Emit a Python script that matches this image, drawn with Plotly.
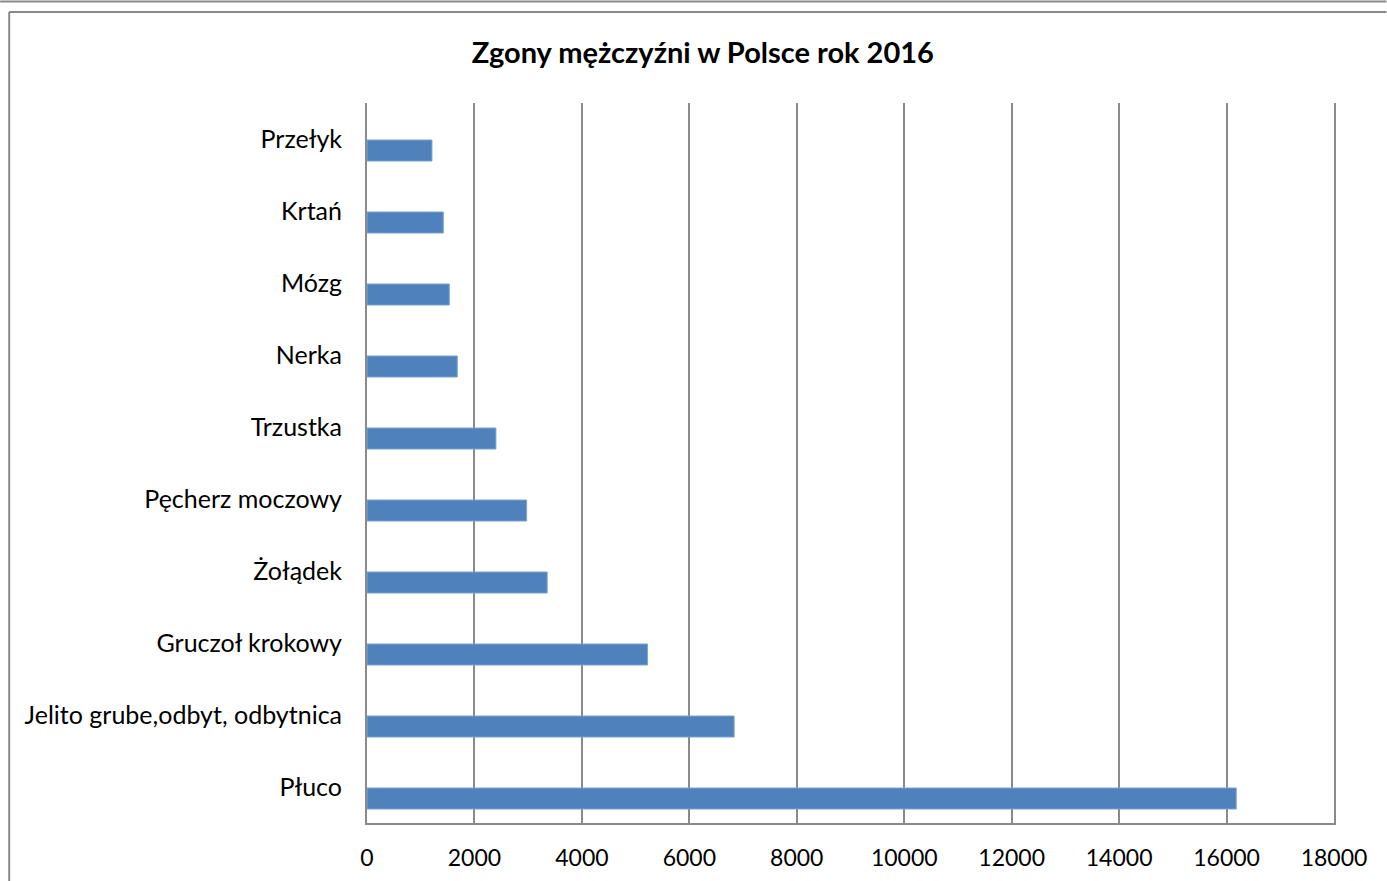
import plotly.graph_objects as go

categories = ["Płuco", "Jelito grube,odbyt, odbytnica", "Gruczoł krokowy", "Żołądek",
              "Pęcherz moczowy", "Trzustka", "Nerka", "Mózg", "Krtań", "Przełyk"]
values = [16180, 6834, 5222, 3354, 2971, 2400, 1680, 1531, 1420, 1209]
x_ticks = [0, 2000, 4000, 6000, 8000, 10000, 12000, 14000, 16000, 18000]

W, H = 1387, 881
L, R, T, B = 367, 1334.5, 103, 823

def px(x):
    return (x - L) / (R - L)

def py(y):
    return (B - y) / (B - T)

positions = list(range(len(categories)))
bw = 0.292

fig = go.Figure()
fig.add_trace(go.Bar(
    x=values, y=positions, orientation="h",
    width=bw, offset=-0.306,
    marker=dict(color="#4F81BD", line=dict(color="#7FA3D0", width=1)),
    showlegend=False, hoverinfo="skip",
))

font_family = "Lato, 'Open Sans', sans-serif"

fig.update_layout(
    width=W, height=H, autosize=False,
    margin=dict(l=L, r=W - R, t=T, b=H - B, pad=0, autoexpand=False),
    paper_bgcolor="white", plot_bgcolor="white",
    title=dict(text="<b>Zgony mężczyźni w Polsce rok 2016</b>",
               x=px(703), xref="paper", xanchor="center",
               y=1 - 53 / H, yref="container", yanchor="middle",
               font=dict(family=font_family, size=29, color="black")),
    font=dict(family=font_family, size=23, color="black"),
    xaxis=dict(range=[0, 18000], tickvals=x_ticks, ticktext=[str(v) for v in x_ticks],
               showgrid=True, gridcolor="#8A8A8A", gridwidth=1.5,
               showline=True, linecolor="#8A8A8A", linewidth=1.5,
               zeroline=False, ticks="", ticklabelstandoff=14, automargin=False,
               tickfont=dict(family=font_family, size=23, color="black")),
    yaxis=dict(range=[-0.5, len(categories) - 0.5], tickvals=positions, ticktext=categories,
               showgrid=False, zeroline=False,
               showline=True, linecolor="#8A8A8A", linewidth=2, mirror=True,
               ticks="", ticklabelstandoff=18, automargin=False,
               tickfont=dict(family=font_family, size=25, color="black")),
    shapes=[
        dict(type="line", xref="paper", yref="paper", x0=px(0), x1=px(W), y0=py(1.5), y1=py(1.5),
             line=dict(color="#8A8A8A", width=2)),
        dict(type="line", xref="paper", yref="paper", x0=px(9), x1=px(W), y0=py(12), y1=py(12),
             line=dict(color="#8A8A8A", width=2)),
        dict(type="line", xref="paper", yref="paper", x0=px(9), x1=px(9), y0=py(12), y1=py(H),
             line=dict(color="#8A8A8A", width=2)),
    ],
)

fig.write_html("out.html", config={"displayModeBar": False},
               post_script="document.body.style.margin='0';document.body.style.overflow='hidden';")
